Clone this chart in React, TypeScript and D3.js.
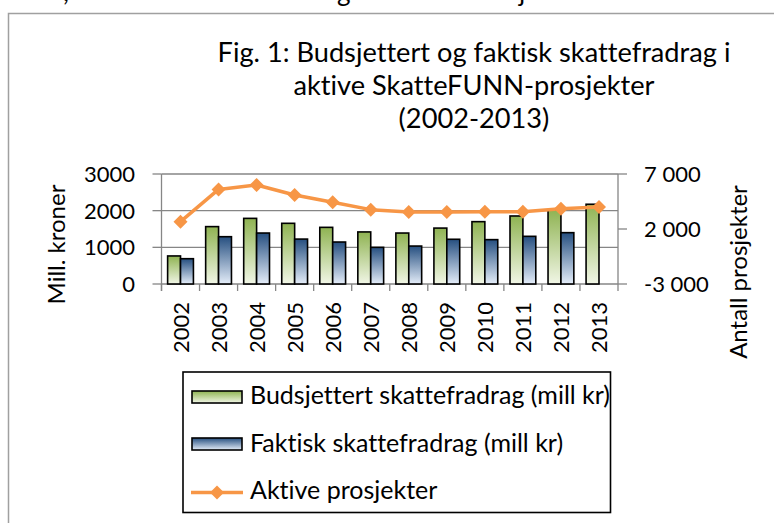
import React from 'react';
import * as d3 from 'd3';

// Data
const years = ['2002', '2003', '2004', '2005', '2006', '2007', '2008', '2009', '2010', '2011', '2012', '2013'];
const budsjettert = [765, 1565, 1790, 1655, 1545, 1420, 1390, 1525, 1700, 1855, 2020, 2175];
const faktisk: (number | null)[] = [690, 1290, 1390, 1225, 1145, 1000, 1035, 1220, 1210, 1300, 1400, null];
const aktive = [2670, 5600, 6000, 5090, 4425, 3760, 3545, 3545, 3575, 3575, 3850, 4000];
const leftTicks = [0, 1000, 2000, 3000];
const rightTicks = [-3000, 2000, 7000];
const titleLines = ['Fig. 1: Budsjettert og faktisk skattefradrag i', 'aktive SkatteFUNN-prosjekter', '(2002-2013)'];
const legendItems = ['Budsjettert skattefradrag (mill kr)', 'Faktisk skattefradrag (mill kr)', 'Aktive prosjekter'];

const W = 774;
const H = 523;
const FONT = 'Lato, "Open Sans", sans-serif';
const ORANGE = '#F79646';
const GRID = '#868686';

const App: React.FC = () => {
  const plot = { left: 161.5, right: 618, top: 174, bottom: 284 };

  const x = d3.scaleBand<string>().domain(years).range([plot.left, plot.right]);
  const yL = d3.scaleLinear().domain([0, 3000]).range([plot.bottom, plot.top]);
  const yR = d3.scaleLinear().domain([-3000, 7000]).range([plot.bottom, plot.top]);

  const barW = 12.9;
  const groupOff = (x.bandwidth() - 2 * barW) / 2;

  const line = d3.line<number>()
    .x((_, i) => (x(years[i]) || 0) + x.bandwidth() / 2)
    .y((d) => yR(d));

  const diamond = (cx: number, cy: number, r: number) =>
    `M${cx},${cy - r}L${cx + r},${cy}L${cx},${cy + r}L${cx - r},${cy}Z`;

  // "7 000" style, with a plain hyphen for negatives
  const fmtR = (v: number) => d3.format(',')(v).replace(/,/g, '\u00a0').replace('\u2212', '-');

  const legend = { x: 183, y: 372, w: 427.5, h: 140.5 };

  return (
    <svg width={W} height={H} style={{ position: 'absolute', left: 0, top: 0, background: '#fff', fontVariantLigatures: 'none', fontFeatureSettings: '"liga" 0, "clig" 0' }}
      fontFamily={FONT}>
      <defs>
        <linearGradient id="gGreen" x1="0" y1="0" x2="0" y2="1">
          <stop offset="0" stopColor="#8fb352" />
          <stop offset="1" stopColor="#f1f6e6" />
        </linearGradient>
        <linearGradient id="gBlue" x1="0" y1="0" x2="0" y2="1">
          <stop offset="0" stopColor="#264f80" />
          <stop offset="1" stopColor="#e4edf9" />
        </linearGradient>
      </defs>
      <rect width={W} height={H} fill="#fff" />

      {/* cut-off text line above the chart */}
      <g fontSize={26} fill="#000">
        <text x={63} y={1}>,</text>
        <text x={337} y={1}>g</text>
        <text x={519} y={1}>j</text>
      </g>

      {/* chart frame */}
      <path d={`M${W},13.5H8.5V${H}`} fill="none" stroke="#a0a0a0" strokeWidth={1.5} />

      {/* title */}
      <g fontSize={27.2} textAnchor="middle" fill="#000">
        {titleLines.map((t, i) => (
          <text key={t} x={474} y={62 + i * 33}>{t}</text>
        ))}
      </g>

      {/* gridlines */}
      {leftTicks.map((t) => (
        <line key={t} x1={plot.left} x2={plot.right} y1={yL(t)} y2={yL(t)} stroke={GRID} strokeWidth={1.3} />
      ))}
      {/* axes */}
      <line x1={plot.left} x2={plot.left} y1={plot.top} y2={plot.bottom + 7} stroke={GRID} strokeWidth={1.3} />
      <line x1={plot.right} x2={plot.right} y1={plot.top} y2={plot.bottom + 7} stroke={GRID} strokeWidth={1.3} />
      {leftTicks.map((t) => (
        <line key={'lt' + t} x1={plot.left - 9} x2={plot.left} y1={yL(t)} y2={yL(t)} stroke={GRID} strokeWidth={1.3} />
      ))}
      {rightTicks.map((t) => (
        <line key={'rt' + t} x1={plot.right} x2={plot.right + 9} y1={yR(t)} y2={yR(t)} stroke={GRID} strokeWidth={1.3} />
      ))}
      {years.map((yr) => (
        <line key={'bt' + yr} x1={x(yr)} x2={x(yr)} y1={plot.bottom} y2={plot.bottom + 7} stroke={GRID} strokeWidth={1.3} />
      ))}

      {/* bars */}
      {years.map((yr, i) => {
        const x0 = (x(yr) || 0) + groupOff;
        const f = faktisk[i];
        return (
          <g key={'b' + yr} stroke="#000" strokeWidth={1.6}>
            <rect x={x0} y={yL(budsjettert[i])} width={barW} height={yL(0) - yL(budsjettert[i])} fill="url(#gGreen)" />
            {f != null && (
              <rect x={x0 + barW} y={yL(f)} width={barW} height={yL(0) - yL(f)} fill="url(#gBlue)" />
            )}
          </g>
        );
      })}

      {/* line series */}
      <path d={line(aktive) || ''} fill="none" stroke={ORANGE} strokeWidth={3.5} strokeLinejoin="round" />
      {aktive.map((v, i) => (
        <path key={'m' + i} d={diamond((x(years[i]) || 0) + x.bandwidth() / 2, yR(v), 7)} fill={ORANGE} />
      ))}

      {/* left axis labels */}
      <g fontSize={22} textAnchor="end" fill="#000">
        {leftTicks.map((t) => (
          <text key={'ll' + t} x={135} y={yL(t)} dy="0.36em">{t}</text>
        ))}
      </g>
      {/* right axis labels */}
      <g fontSize={22} textAnchor="start" fill="#000">
        {rightTicks.map((t) => (
          <text key={'rl' + t} x={644} y={yR(t)} dy="0.36em">{fmtR(t)}</text>
        ))}
      </g>
      {/* category labels */}
      <g fontSize={22} textAnchor="end" fill="#000">
        {years.map((yr) => (
          <text key={'xl' + yr}
            transform={`translate(${(x(yr) || 0) + x.bandwidth() / 2 + 8},302) rotate(-90)`}>{yr}</text>
        ))}
      </g>
      {/* axis titles */}
      <text transform="translate(65,244.5) rotate(-90)" textAnchor="middle" fontSize={24}>Mill. kroner</text>
      <text transform="translate(747,272) rotate(-90)" textAnchor="middle" fontSize={24}>Antall prosjekter</text>

      {/* legend */}
      <rect x={legend.x} y={legend.y} width={legend.w} height={legend.h} fill="#fff" stroke="#000" strokeWidth={1.6} />
      <rect x={192} y={391} width={50} height={12} fill="url(#gGreen)" stroke="#000" strokeWidth={1.6} />
      <rect x={192} y={438} width={50} height={12} fill="url(#gBlue)" stroke="#000" strokeWidth={1.6} />
      <line x1={191} x2={243} y1={492.5} y2={492.5} stroke={ORANGE} strokeWidth={3.5} />
      <path d={diamond(217, 492.5, 7)} fill={ORANGE} />
      <g fontSize={25} fill="#000">
        {legendItems.map((t, i) => (
          <text key={t} x={250} y={404 + i * 47.5}>{t}</text>
        ))}
      </g>
    </svg>
  );
};

export default App;
